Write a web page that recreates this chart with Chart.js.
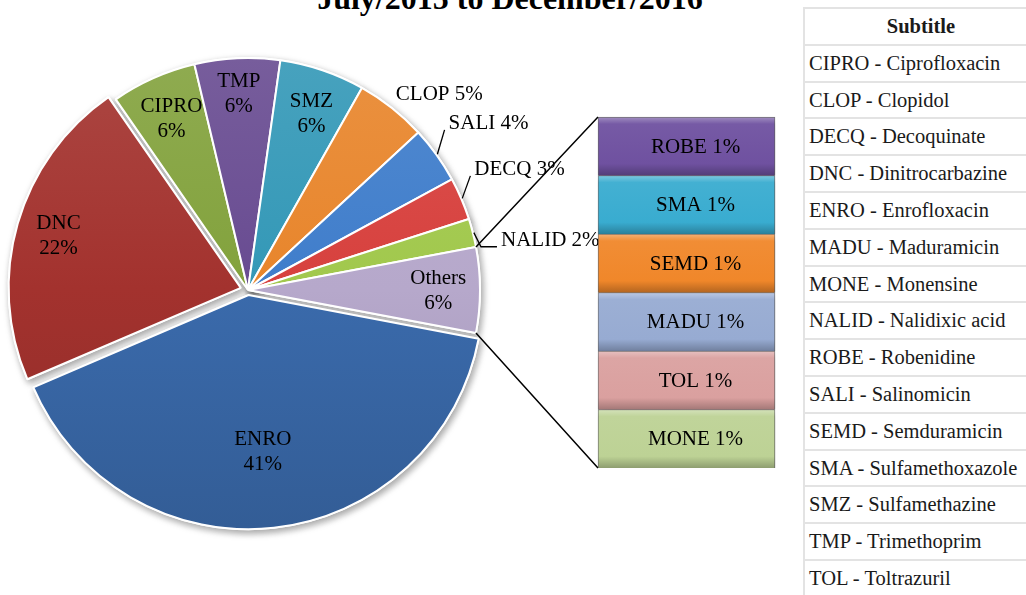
<!DOCTYPE html>
<html>
<head>
<meta charset="utf-8">
<script src="https://cdn.jsdelivr.net/npm/chart.js@4.4.0/dist/chart.umd.min.js"></script>
<style>
    body { margin: 0; width: 1026px; height: 595px; overflow: hidden; position: relative; background: #fff; font-family: "Liberation Serif", serif; }
    #titulo { position: absolute; left: 0; top: -18px; width: 1020px; text-align: center; font-weight: bold; font-size: 32px; line-height: 32px; }
    #pastel { position: absolute; left: 0; top: 0; }
    #barras { position: absolute; left: 590px; top: 110px; }
    #leyenda { position: absolute; left: 803px; top: 7px; width: 232px; border-top: 2px solid #e3e3e3; border-left: 2px solid #e3e3e3; }
    #leyenda div { box-sizing: border-box; height: 36.8px; line-height: 34px; border-bottom: 2px solid #e3e3e3; padding-left: 4px; font-size: 20.5px; color: #1a1a1a; white-space: nowrap; }
    #leyenda div.cab { text-align: center; font-weight: bold; padding-left: 0; }
</style>
</head>
<body>
<div id="titulo"></div>
<canvas id="pastel" width="800" height="595"></canvas>
<canvas id="barras" width="200" height="370"></canvas>
<div id="leyenda"></div>

<script>
const titulo = "July/2015 to December/2016";

// pie principal
const categorias = ["ENRO", "DNC", "CIPRO", "TMP", "SMZ", "CLOP", "SALI", "DECQ", "NALID", "Others"];
const porcentajes = [41, 22, 6, 6, 6, 5, 4, 3, 2, 6];

// barra de "Others" (de arriba hacia abajo)
const otrosCategorias = ["ROBE", "SMA", "SEMD", "MADU", "TOL", "MONE"];
const otrosPorcentajes = [1, 1, 1, 1, 1, 1];

// tabla de la derecha
const leyendaTitulo = "Subtitle";
const leyendaSiglas = ["CIPRO", "CLOP", "DECQ", "DNC", "ENRO", "MADU", "MONE", "NALID", "ROBE", "SALI", "SEMD", "SMA", "SMZ", "TMP", "TOL"];
const leyendaNombres = ["Ciprofloxacin", "Clopidol", "Decoquinate", "Dinitrocarbazine", "Enrofloxacin", "Maduramicin", "Monensine", "Nalidixic acid", "Robenidine", "Salinomicin", "Semduramicin", "Sulfamethoxazole", "Sulfamethazine", "Trimethoprim", "Toltrazuril"];

const coloresPastel = ["#3a6aab", "#a3322e", "#82a23c", "#684b91", "#3398b7", "#e8852b", "#3f7dcb", "#d7403d", "#a1c84c", "#b6a8cb"];
const coloresOtros = ["#6f51a0", "#39acd0", "#f0872a", "#97abd2", "#daa09f", "#bdd295"];

document.getElementById("titulo").textContent = titulo;

const leyenda = document.getElementById("leyenda");
let html = `<div class="cab">${leyendaTitulo}</div>`;
for (let i = 0; i < leyendaSiglas.length; i++) {
    html += `<div>${leyendaSiglas[i]} - ${leyendaNombres[i]}</div>`;
}
leyenda.innerHTML = html;

const fuente = '21px "Liberation Serif"';

// mezcla un color hex con blanco (t>0) o negro (t<0)
function tono(hex, t) {
    const n = parseInt(hex.slice(1), 16);
    let c = [(n >> 16) & 255, (n >> 8) & 255, n & 255];
    c = c.map(v => Math.round(t > 0 ? v + (255 - v) * t : v * (1 + t)));
    return `rgb(${c[0]},${c[1]},${c[2]})`;
}

// sombra suave: se dibujan los elementos una vez con sombra antes del dibujo normal
const sombra = {
    id: "sombra",
    beforeDatasetsDraw(chart) {
        const ctx = chart.ctx;
        ctx.save();
        ctx.shadowColor = "rgba(0,0,0,0.35)";
        ctx.shadowBlur = 7;
        ctx.shadowOffsetX = 2;
        ctx.shadowOffsetY = 3;
        chart.data.datasets.forEach((ds, i) => {
            chart.getDatasetMeta(i).data.forEach(el => el.draw(ctx, chart.chartArea));
        });
        ctx.restore();
    }
};

// etiquetas dentro de cada segmento de la barra
const etiquetasBarras = {
    id: "etiquetasBarras",
    afterDatasetsDraw(chart) {
        const ctx = chart.ctx;
        ctx.save();
        ctx.font = fuente;
        ctx.fillStyle = "#000";
        ctx.textAlign = "center";
        ctx.textBaseline = "middle";
        chart.data.datasets.forEach((ds, i) => {
            const bar = chart.getDatasetMeta(i).data[0];
            ctx.fillText(ds.label + " " + ds.data[0] + "%", bar.x + 9, (bar.y + bar.base) / 2 + 1);
        });
        ctx.restore();
    }
};

function rellenoBarra(context) {
    const chart = context.chart;
    const color = context.dataset.color;
    if (!chart.chartArea || !chart.scales.y) return color;
    let tope = 0;
    for (let k = 0; k <= context.datasetIndex; k++) tope += chart.data.datasets[k].data[0];
    const base = tope - context.dataset.data[0];
    const y0 = chart.scales.y.getPixelForValue(tope);
    const y1 = chart.scales.y.getPixelForValue(base);
    const g = chart.ctx.createLinearGradient(0, y0, 0, y1);
    g.addColorStop(0, tono(color, 0.35));
    g.addColorStop(0.12, tono(color, 0.05));
    g.addColorStop(0.8, color);
    g.addColorStop(1, tono(color, -0.25));
    return g;
}

const datasetsOtros = otrosCategorias.map((c, i) => ({
    label: c,
    data: [otrosPorcentajes[i]],
    color: coloresOtros[i],
    backgroundColor: rellenoBarra,
    borderColor: "rgba(60,60,60,0.45)",
    borderWidth: 1,
    barPercentage: 1,
    categoryPercentage: 1
})).reverse();

const barChart = new Chart(document.getElementById("barras"), {
    type: "bar",
    data: { labels: ["Others"], datasets: datasetsOtros },
    options: {
        responsive: false,
        animation: false,
        layout: { padding: { left: 8, right: 15, top: 7, bottom: 12 } },
        scales: {
            x: { stacked: true, display: false },
            y: { stacked: true, display: false, min: 0, max: otrosPorcentajes.reduce((a, b) => a + b, 0) }
        },
        plugins: { legend: { display: false }, tooltip: { enabled: false } }
    },
    plugins: [sombra, etiquetasBarras]
});

// r: distancia relativa al radio, dAng: giro en grados, fuera: etiqueta de una linea, linea: tipo de guia
const posEtiquetas = [
    { r: 0.70, dAng: 1 },
    { r: 0.85, dAng: 0 },
    { r: 0.81, dAng: 0 },
    { r: 0.85, dAng: 0 },
    { r: 0.81, dAng: 1 },
    { r: 1.18, dAng: 6, fuera: true },
    { r: 1.26, dAng: 1, fuera: true, linea: "recta" },
    { r: 1.28, dAng: -0.7, fuera: true, linea: "recta" },
    { r: 1.32, dAng: 5, fuera: true, linea: "codo" },
    { r: 0.82, dAng: 0 }
];

const etiquetasPastel = {
    id: "etiquetasPastel",
    afterDatasetsDraw(chart) {
        const ctx = chart.ctx;
        const arcos = chart.getDatasetMeta(0).data;
        ctx.save();
        ctx.font = fuente;
        ctx.fillStyle = "#000";
        ctx.strokeStyle = "#000";
        ctx.lineWidth = 1.3;
        ctx.textBaseline = "middle";
        arcos.forEach((arco, i) => {
            const { x, y, startAngle, endAngle, outerRadius } = arco.getProps(["x", "y", "startAngle", "endAngle", "outerRadius"], true);
            const medio = (startAngle + endAngle) / 2;
            const p = posEtiquetas[i];
            const ang = medio + p.dAng * Math.PI / 180;
            const lx = x + Math.cos(ang) * outerRadius * p.r;
            const ly = y + Math.sin(ang) * outerRadius * p.r;
            ctx.textAlign = "center";
            if (p.fuera) {
                const texto = categorias[i] + " " + porcentajes[i] + "%";
                ctx.fillText(texto, lx, ly);
                if (p.linea) {
                    const ancho = ctx.measureText(texto).width;
                    const x0 = x + Math.cos(medio) * (outerRadius + 1);
                    const y0 = y + Math.sin(medio) * (outerRadius + 1);
                    const x1 = lx - ancho / 2 - 4;
                    const y1 = ly + 6;
                    ctx.beginPath();
                    ctx.moveTo(x0, y0);
                    if (p.linea === "codo") ctx.lineTo(x1 - 16, y1);
                    ctx.lineTo(x1, y1);
                    ctx.stroke();
                }
            } else {
                ctx.fillText(categorias[i], lx, ly - 12);
                ctx.fillText(porcentajes[i] + "%", lx, ly + 13);
            }
        });

        // lineas que unen "Others" con la barra
        const otros = arcos[arcos.length - 1];
        const { x, y, startAngle, endAngle, outerRadius } = otros.getProps(["x", "y", "startAngle", "endAngle", "outerRadius"], true);
        const caja = barChart.canvas;
        const dx = caja.offsetLeft - chart.canvas.offsetLeft;
        const dy = caja.offsetTop - chart.canvas.offsetTop;
        const nb = barChart.data.datasets.length;
        const arriba = barChart.getDatasetMeta(nb - 1).data[0];
        const abajo = barChart.getDatasetMeta(0).data[0];
        ctx.lineWidth = 1.5;
        ctx.beginPath();
        ctx.moveTo(x + Math.cos(startAngle) * outerRadius, y + Math.sin(startAngle) * outerRadius);
        ctx.lineTo(dx + arriba.x - arriba.width / 2, dy + arriba.y);
        ctx.moveTo(x + Math.cos(endAngle) * outerRadius, y + Math.sin(endAngle) * outerRadius);
        ctx.lineTo(dx + abajo.x - abajo.width / 2, dy + abajo.base);
        ctx.stroke();
        ctx.restore();
    }
};

// degradado vertical suave sobre todo el pastel
function rellenoPastel(context) {
    const chart = context.chart;
    const color = coloresPastel[context.dataIndex];
    const ca = chart.chartArea;
    if (!ca) return color;
    const cy = (ca.top + ca.bottom) / 2;
    const R = 232;
    const g = chart.ctx.createLinearGradient(0, cy - R, 0, cy + R);
    g.addColorStop(0, tono(color, 0.1));
    g.addColorStop(0.5, color);
    g.addColorStop(1, tono(color, -0.12));
    return g;
}

new Chart(document.getElementById("pastel"), {
    type: "pie",
    data: {
        labels: categorias,
        datasets: [{
            data: porcentajes,
            backgroundColor: rellenoPastel,
            borderColor: "#ffffff",
            borderWidth: 2,
            offset: [20, 30, 0, 0, 0, 0, 0, 0, 0, 0]
        }]
    },
    options: {
        responsive: false,
        animation: false,
        rotation: 100.7,
        radius: 232,
        layout: { padding: { left: 0, right: 304, top: 0, bottom: 15 } },
        plugins: { legend: { display: false }, tooltip: { enabled: false } }
    },
    plugins: [sombra, etiquetasPastel]
});
</script>
</body>
</html>
